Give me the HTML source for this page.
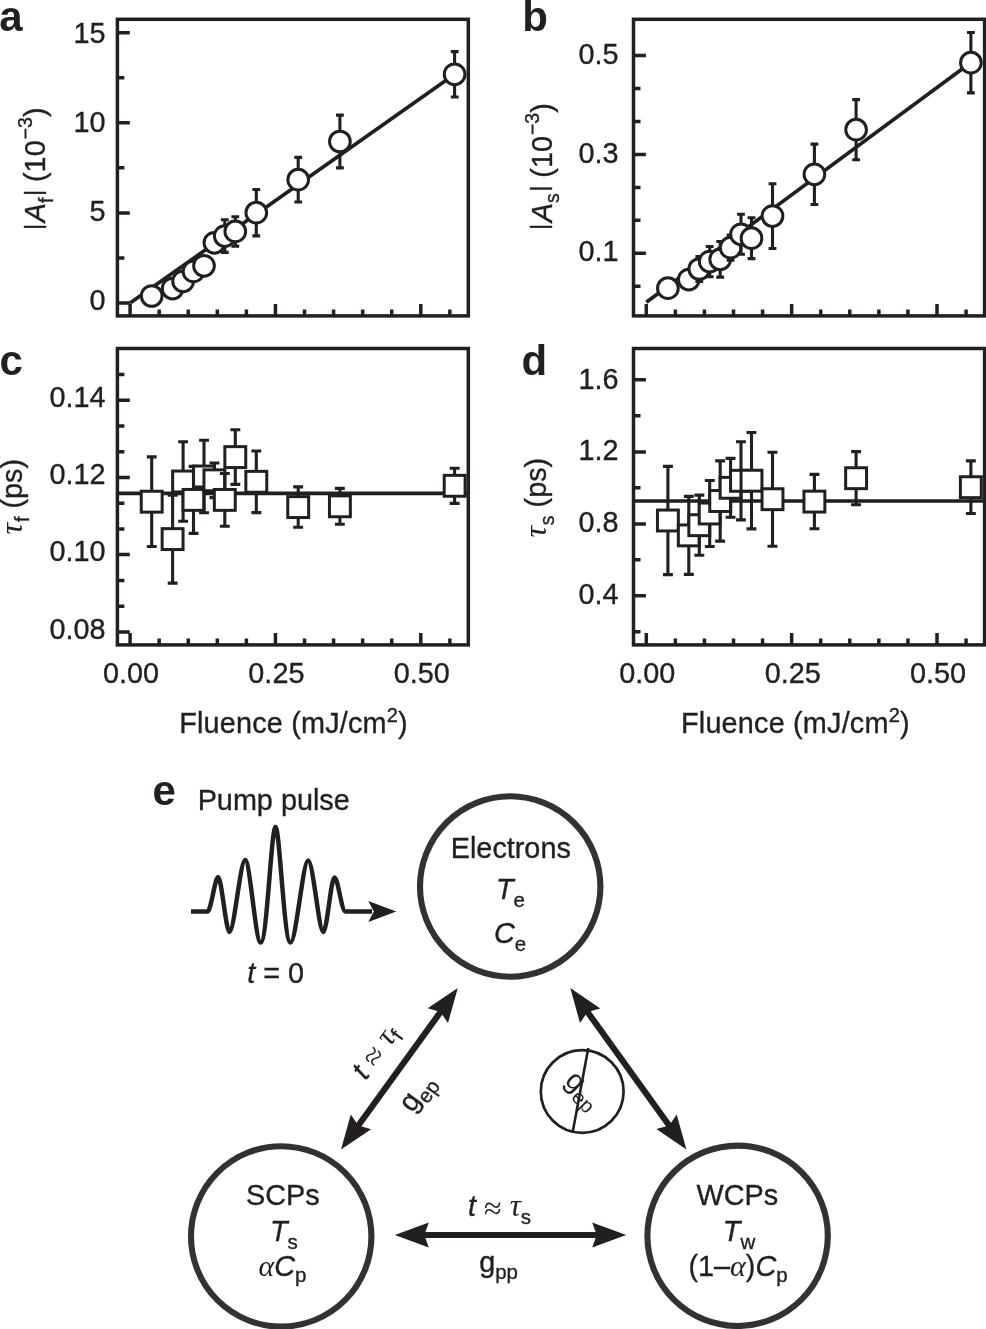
<!DOCTYPE html>
<html><head><meta charset="utf-8"><title>Figure</title>
<style>
html,body{margin:0;padding:0;background:#fff;}
svg{display:block;font-family:"Liberation Sans",sans-serif;}
</style></head><body>
<svg width="986" height="1329" viewBox="0 0 986 1329">
<rect width="986" height="1329" fill="#fff"/>
<defs>
<clipPath id="ca"><rect x="117.4" y="19" width="351.29999999999995" height="296.8"/></clipPath>
<clipPath id="cb"><rect x="633.6" y="19" width="351.19999999999993" height="296.8"/></clipPath>
<clipPath id="cc"><rect x="117.4" y="348.5" width="351.29999999999995" height="296.5"/></clipPath>
<clipPath id="cd"><rect x="633.6" y="348.5" width="351.19999999999993" height="296.5"/></clipPath>
</defs>
<path d="M130.1,303L454.65,74.3" stroke="#231f20" stroke-width="3.7" fill="none"/>
<g clip-path="url(#ca)">
<circle cx="151.7" cy="296.0" r="10.35" fill="#fff" stroke="#231f20" stroke-width="3.0"/>
<circle cx="172.6" cy="288.6" r="10.35" fill="#fff" stroke="#231f20" stroke-width="3.0"/>
<circle cx="183.1" cy="281.3" r="10.35" fill="#fff" stroke="#231f20" stroke-width="3.0"/>
<circle cx="193.5" cy="271.4" r="10.35" fill="#fff" stroke="#231f20" stroke-width="3.0"/>
<circle cx="204.0" cy="265.8" r="10.35" fill="#fff" stroke="#231f20" stroke-width="3.0"/>
<circle cx="214.4" cy="242.8" r="10.35" fill="#fff" stroke="#231f20" stroke-width="3.0"/>
<path d="M224.8,219.8V252.4M220.9,219.8h7.8M220.9,252.4h7.8" stroke="#231f20" stroke-width="3.1" fill="none"/>
<circle cx="224.8" cy="236.1" r="10.35" fill="#fff" stroke="#231f20" stroke-width="3.0"/>
<path d="M235.3,216.7V246.1M231.4,216.7h7.8M231.4,246.1h7.8" stroke="#231f20" stroke-width="3.1" fill="none"/>
<circle cx="235.3" cy="231.4" r="10.35" fill="#fff" stroke="#231f20" stroke-width="3.0"/>
<path d="M256.3,189.5V235.9M252.4,189.5h7.8M252.4,235.9h7.8" stroke="#231f20" stroke-width="3.1" fill="none"/>
<circle cx="256.3" cy="212.7" r="10.35" fill="#fff" stroke="#231f20" stroke-width="3.0"/>
<path d="M298.2,157.4V202.0M294.3,157.4h7.8M294.3,202.0h7.8" stroke="#231f20" stroke-width="3.1" fill="none"/>
<circle cx="298.2" cy="179.7" r="10.35" fill="#fff" stroke="#231f20" stroke-width="3.0"/>
<path d="M339.9,115.1V167.9M336.0,115.1h7.8M336.0,167.9h7.8" stroke="#231f20" stroke-width="3.1" fill="none"/>
<circle cx="339.9" cy="141.5" r="10.35" fill="#fff" stroke="#231f20" stroke-width="3.0"/>
<path d="M454.6,51.6V97.0M450.8,51.6h7.8M450.8,97.0h7.8" stroke="#231f20" stroke-width="3.1" fill="none"/>
<circle cx="454.6" cy="74.3" r="10.35" fill="#fff" stroke="#231f20" stroke-width="3.0"/>
</g>
<path d="M117.4,32.7h12.4M117.4,122.8h12.4M117.4,212.9h12.4M117.4,303.1h12.4M117.4,77.75h7M117.4,167.85h7M117.4,258.0h7M130.10,315.9v-12M159.17,315.9v-6.4M188.24,315.9v-6.4M217.31,315.9v-6.4M246.38,315.9v-6.4M275.45,315.9v-12M304.52,315.9v-6.4M333.59,315.9v-6.4M362.66,315.9v-6.4M391.73,315.9v-6.4M420.80,315.9v-12M449.87,315.9v-6.4" stroke="#231f20" stroke-width="3.5" fill="none"/>
<rect x="117.4" y="19.3" width="350.9" height="296.59999999999997" stroke="#231f20" stroke-width="3.5" fill="none"/>
<path d="M646.3,302.2L970.6,62.7" stroke="#231f20" stroke-width="3.7" fill="none"/>
<g clip-path="url(#cb)">
<circle cx="667.9" cy="288.2" r="10.35" fill="#fff" stroke="#231f20" stroke-width="3.0"/>
<circle cx="688.8" cy="279.6" r="10.35" fill="#fff" stroke="#231f20" stroke-width="3.0"/>
<path d="M699.3,256.6V281.4M695.4,256.6h7.8M695.4,281.4h7.8" stroke="#231f20" stroke-width="3.1" fill="none"/>
<circle cx="699.3" cy="269.0" r="10.35" fill="#fff" stroke="#231f20" stroke-width="3.0"/>
<path d="M709.7,246.5V276.7M705.8,246.5h7.8M705.8,276.7h7.8" stroke="#231f20" stroke-width="3.1" fill="none"/>
<circle cx="709.7" cy="261.6" r="10.35" fill="#fff" stroke="#231f20" stroke-width="3.0"/>
<path d="M720.2,241.5V277.1M716.3,241.5h7.8M716.3,277.1h7.8" stroke="#231f20" stroke-width="3.1" fill="none"/>
<circle cx="720.2" cy="259.3" r="10.35" fill="#fff" stroke="#231f20" stroke-width="3.0"/>
<path d="M730.6,235.1V260.3M726.7,235.1h7.8M726.7,260.3h7.8" stroke="#231f20" stroke-width="3.1" fill="none"/>
<circle cx="730.6" cy="247.7" r="10.35" fill="#fff" stroke="#231f20" stroke-width="3.0"/>
<path d="M741.0,214.3V254.3M737.1,214.3h7.8M737.1,254.3h7.8" stroke="#231f20" stroke-width="3.1" fill="none"/>
<circle cx="741.0" cy="234.3" r="10.35" fill="#fff" stroke="#231f20" stroke-width="3.0"/>
<path d="M751.5,217.8V258.6M747.6,217.8h7.8M747.6,258.6h7.8" stroke="#231f20" stroke-width="3.1" fill="none"/>
<circle cx="751.5" cy="238.2" r="10.35" fill="#fff" stroke="#231f20" stroke-width="3.0"/>
<path d="M772.5,183.7V248.5M768.6,183.7h7.8M768.6,248.5h7.8" stroke="#231f20" stroke-width="3.1" fill="none"/>
<circle cx="772.5" cy="216.1" r="10.35" fill="#fff" stroke="#231f20" stroke-width="3.0"/>
<path d="M814.4,144.1V204.5M810.5,144.1h7.8M810.5,204.5h7.8" stroke="#231f20" stroke-width="3.1" fill="none"/>
<circle cx="814.4" cy="174.3" r="10.35" fill="#fff" stroke="#231f20" stroke-width="3.0"/>
<path d="M856.1,99.6V159.8M852.2,99.6h7.8M852.2,159.8h7.8" stroke="#231f20" stroke-width="3.1" fill="none"/>
<circle cx="856.1" cy="129.7" r="10.35" fill="#fff" stroke="#231f20" stroke-width="3.0"/>
<path d="M970.9,32.5V92.9M967.0,32.5h7.8M967.0,92.9h7.8" stroke="#231f20" stroke-width="3.1" fill="none"/>
<circle cx="970.9" cy="62.7" r="10.35" fill="#fff" stroke="#231f20" stroke-width="3.0"/>
</g>
<path d="M633.5,55.4h12.4M633.5,154.4h12.4M633.5,253.3h12.4M633.5,88.4h7M633.5,121.4h7M633.5,187.4h7M633.5,220.3h7M633.5,286.3h7M646.30,315.9v-12M675.37,315.9v-6.4M704.44,315.9v-6.4M733.51,315.9v-6.4M762.58,315.9v-6.4M791.65,315.9v-12M820.72,315.9v-6.4M849.79,315.9v-6.4M878.86,315.9v-6.4M907.93,315.9v-6.4M937.00,315.9v-12M966.07,315.9v-6.4" stroke="#231f20" stroke-width="3.5" fill="none"/>
<rect x="633.5" y="19.3" width="351.1" height="296.59999999999997" stroke="#231f20" stroke-width="3.5" fill="none"/>
<path d="M117.4,493.3H468.7" stroke="#231f20" stroke-width="3.7" fill="none"/>
<g clip-path="url(#cc)">
<path d="M151.7,456.9V546.5M146.8,456.9h9.9M146.8,546.5h9.9" stroke="#231f20" stroke-width="3.1" fill="none"/>
<rect x="141.25" y="491.25" width="20.9" height="20.9" fill="#fff" stroke="#231f20" stroke-width="3.0"/>
<path d="M172.6,495.1V583.1M167.7,495.1h9.9M167.7,583.1h9.9" stroke="#231f20" stroke-width="3.1" fill="none"/>
<rect x="162.15" y="528.65" width="20.9" height="20.9" fill="#fff" stroke="#231f20" stroke-width="3.0"/>
<path d="M183.1,441.8V521.2M178.2,441.8h9.9M178.2,521.2h9.9" stroke="#231f20" stroke-width="3.1" fill="none"/>
<rect x="172.65" y="471.05" width="20.9" height="20.9" fill="#fff" stroke="#231f20" stroke-width="3.0"/>
<path d="M193.5,466.4V533.4M188.6,466.4h9.9M188.6,533.4h9.9" stroke="#231f20" stroke-width="3.1" fill="none"/>
<rect x="183.05" y="489.45" width="20.9" height="20.9" fill="#fff" stroke="#231f20" stroke-width="3.0"/>
<path d="M204.0,440.2V512.8M199.1,440.2h9.9M199.1,512.8h9.9" stroke="#231f20" stroke-width="3.1" fill="none"/>
<rect x="193.55" y="466.05" width="20.9" height="20.9" fill="#fff" stroke="#231f20" stroke-width="3.0"/>
<path d="M214.4,463.0V497.6M209.5,463.0h9.9M209.5,497.6h9.9" stroke="#231f20" stroke-width="3.1" fill="none"/>
<rect x="203.95" y="469.85" width="20.9" height="20.9" fill="#fff" stroke="#231f20" stroke-width="3.0"/>
<path d="M224.8,473.5V526.3M219.9,473.5h9.9M219.9,526.3h9.9" stroke="#231f20" stroke-width="3.1" fill="none"/>
<rect x="214.35" y="489.45" width="20.9" height="20.9" fill="#fff" stroke="#231f20" stroke-width="3.0"/>
<path d="M235.3,429.8V484.4M230.4,429.8h9.9M230.4,484.4h9.9" stroke="#231f20" stroke-width="3.1" fill="none"/>
<rect x="224.85" y="446.65" width="20.9" height="20.9" fill="#fff" stroke="#231f20" stroke-width="3.0"/>
<path d="M256.3,451.0V512.6M251.4,451.0h9.9M251.4,512.6h9.9" stroke="#231f20" stroke-width="3.1" fill="none"/>
<rect x="245.85" y="471.35" width="20.9" height="20.9" fill="#fff" stroke="#231f20" stroke-width="3.0"/>
<path d="M298.2,486.9V527.3M293.2,486.9h9.9M293.2,527.3h9.9" stroke="#231f20" stroke-width="3.1" fill="none"/>
<rect x="287.75" y="496.65" width="20.9" height="20.9" fill="#fff" stroke="#231f20" stroke-width="3.0"/>
<path d="M339.9,488.4V524.2M334.9,488.4h9.9M334.9,524.2h9.9" stroke="#231f20" stroke-width="3.1" fill="none"/>
<rect x="329.45" y="495.85" width="20.9" height="20.9" fill="#fff" stroke="#231f20" stroke-width="3.0"/>
<path d="M454.6,468.2V503.4M449.7,468.2h9.9M449.7,503.4h9.9" stroke="#231f20" stroke-width="3.1" fill="none"/>
<rect x="444.20" y="475.35" width="20.9" height="20.9" fill="#fff" stroke="#231f20" stroke-width="3.0"/>
</g>
<path d="M117.4,400.2h12.4M117.4,477.4h12.4M117.4,554.6h12.4M117.4,631.9h12.4M117.4,374.5h7M117.4,426.0h7M117.4,451.7h7M117.4,503.2h7M117.4,528.9h7M117.4,580.4h7M117.4,606.2h7M130.10,644.9v-12M159.17,644.9v-6.4M188.24,644.9v-6.4M217.31,644.9v-6.4M246.38,644.9v-6.4M275.45,644.9v-12M304.52,644.9v-6.4M333.59,644.9v-6.4M362.66,644.9v-6.4M391.73,644.9v-6.4M420.80,644.9v-12M449.87,644.9v-6.4" stroke="#231f20" stroke-width="3.5" fill="none"/>
<rect x="117.4" y="348.5" width="350.9" height="296.4" stroke="#231f20" stroke-width="3.5" fill="none"/>
<path d="M633.6,501.0H984.8" stroke="#231f20" stroke-width="3.7" fill="none"/>
<g clip-path="url(#cd)">
<path d="M667.9,466.4V574.6M663.0,466.4h9.9M663.0,574.6h9.9" stroke="#231f20" stroke-width="3.1" fill="none"/>
<rect x="657.45" y="510.05" width="20.9" height="20.9" fill="#fff" stroke="#231f20" stroke-width="3.0"/>
<path d="M688.8,496.4V574.4M683.9,496.4h9.9M683.9,574.4h9.9" stroke="#231f20" stroke-width="3.1" fill="none"/>
<rect x="678.35" y="524.95" width="20.9" height="20.9" fill="#fff" stroke="#231f20" stroke-width="3.0"/>
<path d="M699.3,495.1V555.3M694.4,495.1h9.9M694.4,555.3h9.9" stroke="#231f20" stroke-width="3.1" fill="none"/>
<rect x="688.85" y="514.75" width="20.9" height="20.9" fill="#fff" stroke="#231f20" stroke-width="3.0"/>
<path d="M709.7,480.5V546.5M704.8,480.5h9.9M704.8,546.5h9.9" stroke="#231f20" stroke-width="3.1" fill="none"/>
<rect x="699.25" y="503.05" width="20.9" height="20.9" fill="#fff" stroke="#231f20" stroke-width="3.0"/>
<path d="M720.2,460.9V541.1M715.2,460.9h9.9M715.2,541.1h9.9" stroke="#231f20" stroke-width="3.1" fill="none"/>
<rect x="709.75" y="490.55" width="20.9" height="20.9" fill="#fff" stroke="#231f20" stroke-width="3.0"/>
<path d="M730.6,458.4V517.2M725.6,458.4h9.9M725.6,517.2h9.9" stroke="#231f20" stroke-width="3.1" fill="none"/>
<rect x="720.15" y="477.35" width="20.9" height="20.9" fill="#fff" stroke="#231f20" stroke-width="3.0"/>
<path d="M741.0,441.7V519.9M736.0,441.7h9.9M736.0,519.9h9.9" stroke="#231f20" stroke-width="3.1" fill="none"/>
<rect x="730.55" y="470.35" width="20.9" height="20.9" fill="#fff" stroke="#231f20" stroke-width="3.0"/>
<path d="M751.5,432.5V528.9M746.5,432.5h9.9M746.5,528.9h9.9" stroke="#231f20" stroke-width="3.1" fill="none"/>
<rect x="741.05" y="470.25" width="20.9" height="20.9" fill="#fff" stroke="#231f20" stroke-width="3.0"/>
<path d="M772.5,452.2V546.2M767.5,452.2h9.9M767.5,546.2h9.9" stroke="#231f20" stroke-width="3.1" fill="none"/>
<rect x="762.05" y="488.75" width="20.9" height="20.9" fill="#fff" stroke="#231f20" stroke-width="3.0"/>
<path d="M814.4,474.4V528.8M809.5,474.4h9.9M809.5,528.8h9.9" stroke="#231f20" stroke-width="3.1" fill="none"/>
<rect x="803.95" y="491.15" width="20.9" height="20.9" fill="#fff" stroke="#231f20" stroke-width="3.0"/>
<path d="M856.1,451.6V504.8M851.1,451.6h9.9M851.1,504.8h9.9" stroke="#231f20" stroke-width="3.1" fill="none"/>
<rect x="845.65" y="467.75" width="20.9" height="20.9" fill="#fff" stroke="#231f20" stroke-width="3.0"/>
<path d="M970.9,460.9V513.5M965.9,460.9h9.9M965.9,513.5h9.9" stroke="#231f20" stroke-width="3.1" fill="none"/>
<rect x="960.40" y="476.75" width="20.9" height="20.9" fill="#fff" stroke="#231f20" stroke-width="3.0"/>
</g>
<path d="M633.5,379.8h12.4M633.5,451.9h12.4M633.5,523.9h12.4M633.5,595.8h12.4M633.5,415.8h7M633.5,487.8h7M633.5,559.8h7M633.5,631.7h7M646.30,644.9v-12M675.37,644.9v-6.4M704.44,644.9v-6.4M733.51,644.9v-6.4M762.58,644.9v-6.4M791.65,644.9v-12M820.72,644.9v-6.4M849.79,644.9v-6.4M878.86,644.9v-6.4M907.93,644.9v-6.4M937.00,644.9v-12M966.07,644.9v-6.4" stroke="#231f20" stroke-width="3.5" fill="none"/>
<rect x="633.5" y="348.5" width="351.1" height="296.4" stroke="#231f20" stroke-width="3.5" fill="none"/>
<g font-size="28.8" fill="#231f20" stroke="#231f20" stroke-width="0.35">
<text x="105.5" y="43.2" text-anchor="end" >15</text>
<text x="105.5" y="132.2" text-anchor="end" >10</text>
<text x="105.5" y="221.2" text-anchor="end" >5</text>
<text x="105.5" y="310.2" text-anchor="end" >0</text>
<text x="618.5" y="63.8" text-anchor="end" >0.5</text>
<text x="618.5" y="162.5" text-anchor="end" >0.3</text>
<text x="618.5" y="261.2" text-anchor="end" >0.1</text>
<text x="105.5" y="406.8" text-anchor="end" >0.14</text>
<text x="105.5" y="484.1" text-anchor="end" >0.12</text>
<text x="105.5" y="561.3" text-anchor="end" >0.10</text>
<text x="105.5" y="638.5" text-anchor="end" >0.08</text>
<text x="618.5" y="388.8" text-anchor="end" >1.6</text>
<text x="618.5" y="460.3" text-anchor="end" >1.2</text>
<text x="618.5" y="532.3" text-anchor="end" >0.8</text>
<text x="618.5" y="603.9" text-anchor="end" >0.4</text>
<text x="131.1" y="683.0" text-anchor="middle" >0.00</text>
<text x="276.4" y="683.0" text-anchor="middle" >0.25</text>
<text x="421.8" y="683.0" text-anchor="middle" >0.50</text>
<text x="293.5" y="732.9" text-anchor="middle" letter-spacing="0.2">Fluence (mJ/cm<tspan font-size="20" dy="-11">2</tspan><tspan dy="11">)</tspan></text>
<text x="647.3" y="683.0" text-anchor="middle" >0.00</text>
<text x="792.7" y="683.0" text-anchor="middle" >0.25</text>
<text x="938.0" y="683.0" text-anchor="middle" >0.50</text>
<text x="795.4" y="732.9" text-anchor="middle" letter-spacing="0.2">Fluence (mJ/cm<tspan font-size="20" dy="-11">2</tspan><tspan dy="11">)</tspan></text>
<text transform="translate(45.3,229.9) rotate(-90)"><tspan font-size="23.6" dy="-4.6">|</tspan><tspan font-style="italic" dy="4.6" dx="1.5">A</tspan><tspan font-size="19.5" dy="7.5">f</tspan><tspan font-size="23.6" dy="-12.1" dx="1.5">|</tspan><tspan dy="4.6"> (10</tspan><tspan font-size="19.5" dy="-13" dx="1">−3</tspan><tspan dy="13">)</tspan></text>
<text transform="translate(551.8,229.9) rotate(-90)"><tspan font-size="23.6" dy="-4.6">|</tspan><tspan font-style="italic" dy="4.6" dx="1.5">A</tspan><tspan font-size="19.5" dy="7.5">s</tspan><tspan font-size="23.6" dy="-12.1" dx="1.5">|</tspan><tspan dy="4.6"> (10</tspan><tspan font-size="19.5" dy="-13" dx="1">−3</tspan><tspan dy="13">)</tspan></text>
<text transform="translate(21.8,534.5) rotate(-90)"><tspan stroke="none" font-family="Liberation Serif,serif" font-style="italic" font-size="32">τ</tspan><tspan font-size="19.5" dy="7.5" dx="1">f</tspan><tspan dy="-7.5"> (ps)</tspan></text>
<text transform="translate(546.1,537.6) rotate(-90)"><tspan stroke="none" font-family="Liberation Serif,serif" font-style="italic" font-size="32">τ</tspan><tspan font-size="19.5" dy="7.5" dx="1">s</tspan><tspan dy="-7.5"> (ps)</tspan></text>
</g>
<g font-size="42" font-weight="bold" fill="#231f20">
<text x="-0.8" y="30.6">a</text>
<text x="522.2" y="30.6">b</text>
<text x="-0.5" y="375">c</text>
<text x="521.6" y="375">d</text>
<text x="152.5" y="804.6">e</text>
</g>
<circle cx="510.2" cy="886.5" r="90.2" fill="none" stroke="#333132" stroke-width="6.1"/>
<circle cx="281.2" cy="1236.4" r="90.2" fill="none" stroke="#333132" stroke-width="6.1"/>
<circle cx="737.6" cy="1235.8" r="90.2" fill="none" stroke="#333132" stroke-width="6.1"/>
<path d="M191,911.5H207.5 C211,911.5 215,877 218.1,877 C221.5,877 226,932 229.5,932 C234,932 240.5,860 245.1,860 C250,860 255.5,942.5 260.7,942.5 C267,942.5 271.3,827 275.5,827 C279.7,827 284,942.5 290.5,942.5 C296,942.5 303,860.5 308.1,860.5 C313,860.5 319,932 323.2,932 C327,932 331,877.5 334.5,877.5 C338,877.5 341.5,911.5 345.5,911.5 H372" stroke="#231f20" stroke-width="4.5" fill="none" stroke-linejoin="round"/>
<path d="M396.3,911.5L368.3,922.1L373.8,911.5L368.3,900.9Z" fill="#231f20"/>
<path d="M446.1,1004.3L352.7,1133.2" stroke="#231f20" stroke-width="6.2" fill="none"/>
<path d="M341.0,1149.4L350.8,1114.5L358.3,1125.5L371.1,1129.2ZM457.8,988.1L448.0,1023.0L440.5,1012.0L427.7,1008.3Z" fill="#231f20"/>
<path d="M582.0,1004.3L674.7,1133.2" stroke="#231f20" stroke-width="6.2" fill="none"/>
<path d="M686.4,1149.4L656.4,1129.1L669.2,1125.5L676.7,1114.5ZM570.3,988.1L600.3,1008.4L587.5,1012.0L580.0,1023.0Z" fill="#231f20"/>
<path d="M414.8,1235.0L606.2,1235.0" stroke="#231f20" stroke-width="6.2" fill="none"/>
<path d="M626.2,1235.0L592.2,1247.5L596.7,1235.0L592.2,1222.5ZM394.8,1235.0L428.8,1222.5L424.3,1235.0L428.8,1247.5Z" fill="#231f20"/>
<circle cx="582.2" cy="1091.5" r="41.4" fill="none" stroke="#231f20" stroke-width="2.7"/>
<path d="M588.3,1048L572.8,1131.5" stroke="#231f20" stroke-width="2.6"/>
<g font-size="28.8" fill="#231f20" text-anchor="middle" stroke="#231f20" stroke-width="0.35">
<text x="273.7" y="810">Pump pulse</text>
<text x="275.6" y="982.8"><tspan font-style="italic">t</tspan> = 0</text>
<text x="510.8" y="858.2">Electrons</text>
<text x="510.5" y="898.7"><tspan font-style="italic">T</tspan><tspan font-size="20.5" dy="8">e</tspan></text>
<text x="510" y="942.5"><tspan font-style="italic">C</tspan><tspan font-size="20.5" dy="8">e</tspan></text>
<text x="282.8" y="1204.6">SCPs</text>
<text x="283.8" y="1240.8"><tspan font-style="italic">T</tspan><tspan font-size="20.5" dy="8">s</tspan></text>
<text x="282.5" y="1275.8"><tspan stroke="none" font-family="Liberation Serif,serif" font-style="italic" font-size="30">α</tspan><tspan font-style="italic">C</tspan><tspan font-size="20.5" dy="6">p</tspan></text>
<text x="737.4" y="1204.6">WCPs</text>
<text x="739" y="1240.8"><tspan font-style="italic">T</tspan><tspan font-size="20.5" dy="8">w</tspan></text>
<text x="738" y="1275.8">(1–<tspan stroke="none" font-family="Liberation Serif,serif" font-style="italic" font-size="30">α</tspan>)<tspan font-style="italic">C</tspan><tspan font-size="20.5" dy="6">p</tspan></text>
<text x="499.5" y="1216.2"><tspan font-style="italic">t</tspan> <tspan stroke="none" font-family="Liberation Serif,serif" font-size="32" dy="2.5">≈</tspan> <tspan dy="-2.5" stroke="none" font-family="Liberation Serif,serif" font-style="italic" font-size="31">τ</tspan><tspan font-size="20.5" dy="8">s</tspan></text>
<text x="498.6" y="1272.4">g<tspan font-size="20.5" dy="7">pp</tspan></text>
<text transform="translate(382.8,1057.3) rotate(-54.2)"><tspan font-style="italic">t</tspan> <tspan stroke="none" font-family="Liberation Serif,serif" font-size="32" dy="2.5">≈</tspan> <tspan dy="-2.5" stroke="none" font-family="Liberation Serif,serif" font-style="italic" font-size="31">τ</tspan><tspan font-size="20.5" dy="5.5">f</tspan></text>
<text transform="translate(423.8,1097.8) rotate(-54.2)">g<tspan font-size="20.5" dy="7">ep</tspan></text>
<text transform="translate(563.8,1082.1) rotate(45)" text-anchor="start" stroke="none">g<tspan font-size="20.5" dy="7">ep</tspan></text>
</g>
</svg>
</body></html>
